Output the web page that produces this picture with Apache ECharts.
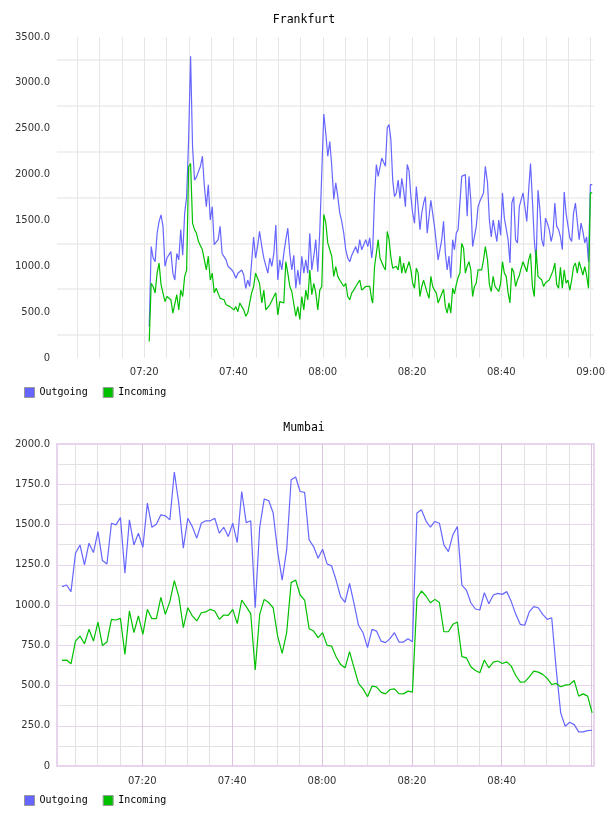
<!DOCTYPE html>
<html>
<head>
<meta charset="utf-8">
<script src="https://cdn.jsdelivr.net/npm/echarts@6/dist/echarts.min.js"></script>
<style>
  html, body { margin: 0; padding: 0; background: #fff; }
  #chart { width: 608px; height: 816px; }
</style>
</head>
<body>
<div id="chart"></div>
<script>
// times are minutes after 07:00
const seriesNames = ['Outgoing', 'Incoming'];
const fraLabelMinutes = [20, 40, 60, 80, 100, 120];
const mumLabelMinutes = [20, 40, 60, 80, 100];

// Frankfurt: samples read in four runs, [first minute, last minute, count]
const fraRuns = [[21.12, 45.83, 57], [45.90, 70.97, 57], [71.19, 96.42, 63], [96.49, 120.37, 58]];
const fraOutgoing = [
  340,1215,1090,1050,1360,1490,1560,1435,1000,1090,1070,1160,925,850,1140,1070,1400,1120,1580,1760,
  2380,3290,2300,1940,1975,1975,2090,2200,1870,1650,1890,1505,1650,1235,1235,1290,1435,1140,1120,1070,
  1000,980,960,925,870,925,940,960,905,760,850,780,760,1320,1090,1215,1380,
  1360,1215,1090,1090,925,1090,1000,1140,1450,850,1070,960,1140,1290,1415,1140,960,1120,760,960,
  800,1110,925,1070,925,1360,960,1110,1290,940,1380,1400,
  2660,2450,2200,2360,2090,1730,1910,1765,1580,1490,1360,1180,1090,1050,1120,1140,1215,1140,1290,1180,
  1175,1290,1215,1310,1090,
  1180,1760,2110,1980,2000,2180,2180,2090,2510,2545,2380,1940,1760,1800,1940,1740,1960,1830,1650,2110,
  2040,1760,1580,1470,1870,1650,1400,1580,1690,1760,1360,1380,1720,1580,1435,1255,1070,1070,1290,1490,
  1140,960,1110,870,1290,1180,1360,1400,1400,1980,2000,2000,1545,1980,1720,1215,1200,1435,1650,1710,
  1690,1800,2090,
  2090,1910,1505,1320,1505,1490,1270,1505,1340,1800,1525,1505,1290,1035,1690,1760,1290,1255,1650,1670,
  1800,1780,1490,1830,2120,1720,1290,1050,1830,1620,1290,1215,1525,1470,1400,1270,1360,1690,1435,1400,
  1320,1180,1810,1580,1580,1310,1270,1580,1690,1490,1290,1470,1380,1255,1320,1050,1890,1890
];
const fraIncoming = [
  180,815,780,710,925,1035,800,780,615,670,690,635,490,470,690,525,740,670,890,960,
  2085,2120,1470,1400,1360,1270,1260,1180,1070,960,1110,850,925,710,760,780,650,635,635,580,
  600,560,580,525,560,505,600,560,525,455,490,470,710,780,925,905,815,
  780,600,740,525,505,580,600,670,710,470,615,635,600,1050,925,780,725,710,455,560,
  420,670,525,740,635,960,690,815,710,525,740,780,
  1565,1475,1255,1180,1110,890,995,890,850,870,780,815,670,635,710,740,780,780,850,740,
  760,780,780,780,635,
  600,995,995,1290,1090,1090,995,960,1380,1290,1100,980,995,1000,960,1110,925,1035,925,925,
  1050,960,815,760,980,925,670,780,850,870,710,650,890,780,740,710,600,620,700,750,
  560,490,600,490,760,700,800,880,925,1250,1200,925,1000,1050,960,670,780,815,960,980,
  960,1070,1215,
  1215,1070,800,725,890,780,780,725,815,1050,925,890,710,600,980,940,780,850,900,980,
  1050,1030,940,1070,1140,780,670,1180,890,870,850,780,820,830,850,870,950,1035,800,760,
  990,760,960,815,850,740,850,995,1035,925,1050,980,905,995,900,760,1800,1800
];

// Mumbai: one sample per minute
const mumStart = 2.13;
const mumStep = 1;
const mumOutgoing = [
  1114,1124,1083,1321,1373,1249,1384,1326,1456,1276,1255,1508,1498,1543,1197,1529,1373,1446,1359,1633,
  1483,1502,1560,1554,1529,1826,1629,1353,1539,1487,1415,1508,1523,1523,1539,1446,1483,1425,1508,1388,
  1705,1512,1523,983,1483,1658,1649,1571,1332,1155,1342,1778,1795,1705,
  1700,1404,1363,1290,1346,1255,1243,1155,1052,1017,1135,1008,874,828,735,849,838,776,766,791,
  828,770,770,791,772,1571,1591,1523,1483,1519,1508,1373,1332,1436,1487,1124,1093,1014,975,969,
  1077,1008,1062,1072,1066,1083,1021,942,880,874,957,990,983,942,911,921,600,330,247,272,
  257,212,212,220,222
];
const mumIncoming = [
  656,658,635,776,807,759,849,776,894,749,770,911,907,917,693,963,828,932,818,973,
  915,915,1047,942,1021,1151,1052,859,983,932,901,952,957,973,963,911,938,936,973,884,
  1031,990,946,596,942,1035,1015,983,807,699,828,1139,1155,1062,
  1030,853,838,797,828,749,745,679,631,610,710,610,513,479,430,496,492,459,448,475,
  479,450,448,465,459,1041,1087,1056,1014,1035,1015,834,834,880,894,679,672,616,593,579,
  658,610,645,652,637,647,620,562,521,523,554,589,583,569,544,506,513,492,502,506,
  531,434,448,434,330
];

const blue = '#6666ff';
const green = '#00c000';
const labelFont = { fontFamily: 'DejaVu Sans', fontSize: 10, color: '#333' };
const monoFont = 'DejaVu Sans Mono';

function runTimes(runs) {
  const out = [];
  runs.forEach(([a, b, n]) => {
    for (let i = 0; i < n; i++) out.push(a + (b - a) * i / (n - 1));
  });
  return out;
}
const fraTimes = runTimes(fraRuns);
const mumTimes = mumOutgoing.map((v, i) => mumStart + i * mumStep);

function zip(times, vals) {
  return vals.map((v, i) => [times[i], v]);
}

function clock(list) {
  return function (v) {
    const m = Math.round(v);
    if (Math.abs(v - m) > 1e-6 || list.indexOf(m) < 0) return '';
    const h = 7 + Math.floor(m / 60);
    const mm = m % 60;
    return (h < 10 ? '0' : '') + h + ':' + (mm < 10 ? '0' : '') + mm;
  };
}

function yLabel(step) {
  return function (v) {
    if (v === 0) return '0';
    return v % step === 0 ? v.toFixed(1) : '';
  };
}

const chart = echarts.init(document.getElementById('chart'));

const titleStyle = { fontFamily: monoFont, fontSize: 11.5, fontWeight: 'normal', color: '#000' };
const legendBase = {
  data: seriesNames, left: 19, icon: 'rect', itemWidth: 10, itemHeight: 10, itemGap: 15,
  itemStyle: { borderColor: '#999', borderWidth: 1 },
  textStyle: { fontFamily: monoFont, fontSize: 10, color: '#000' }
};

chart.setOption({
  animation: false,
  title: [
    { text: 'Frankfurt', left: 'center', top: 9, textStyle: titleStyle },
    { text: 'Mumbai', left: 'center', top: 417, textStyle: titleStyle }
  ],
  legend: [
    Object.assign({ top: 382 }, legendBase),
    Object.assign({ top: 790 }, legendBase)
  ],
  grid: [
    { left: 57, right: 14, top: 37, height: 321 },
    { left: 57, right: 14, top: 444, height: 322, show: true, borderColor: '#e8d4ec', borderWidth: 2 }
  ],
  xAxis: [
    { type: 'value', gridIndex: 0, min: 0.459, max: 120.66, minInterval: 5, maxInterval: 5,
      axisLine: { show: false }, axisTick: { show: false },
      axisLabel: Object.assign({ formatter: clock(fraLabelMinutes), margin: 9, showMinLabel: true, showMaxLabel: true }, labelFont),
      splitLine: { show: true, showMinLine: false, showMaxLine: false, lineStyle: { color: '#e6e6e6', width: 1 } } },
    { type: 'value', gridIndex: 1, min: 1.013, max: 120.54, minInterval: 20, maxInterval: 20, z: 1,
      axisLine: { show: false }, axisTick: { show: false },
      axisLabel: Object.assign({ formatter: clock(mumLabelMinutes), margin: 10 }, labelFont),
      splitLine: { show: true, showMinLine: false, showMaxLine: false, lineStyle: { color: '#dcc4e0', width: 1 } } },
    { type: 'value', gridIndex: 1, min: 1.013, max: 120.54, minInterval: 5, maxInterval: 5, z: 0,
      axisLine: { show: false }, axisTick: { show: false }, axisLabel: { show: false },
      splitLine: { show: true, showMinLine: false, showMaxLine: false, lineStyle: { color: '#e4e0e4', width: 1 } } }
  ],
  yAxis: [
    { type: 'value', gridIndex: 0, min: 0, max: 3500, interval: 250,
      axisLine: { show: false }, axisTick: { show: false },
      axisLabel: Object.assign({ formatter: yLabel(500), margin: 7 }, labelFont),
      splitLine: { lineStyle: { color: ['rgba(0,0,0,0)', '#f0f0f0'], width: 2 } } },
    { type: 'value', gridIndex: 1, min: 0, max: 2000, interval: 125,
      axisLine: { show: false }, axisTick: { show: false },
      axisLabel: Object.assign({ formatter: yLabel(250), margin: 7 }, labelFont),
      splitLine: { lineStyle: { color: ['#e8d4ec', '#e4e0e4'], width: 1 } } }
  ],
  series: [
    { name: 'Outgoing', type: 'line', xAxisIndex: 0, yAxisIndex: 0, data: zip(fraTimes, fraOutgoing),
      showSymbol: false, color: blue, lineStyle: { width: 1.2 } },
    { name: 'Incoming', type: 'line', xAxisIndex: 0, yAxisIndex: 0, data: zip(fraTimes, fraIncoming),
      showSymbol: false, color: green, lineStyle: { width: 1.2 } },
    { name: 'Outgoing', type: 'line', xAxisIndex: 1, yAxisIndex: 1, data: zip(mumTimes, mumOutgoing),
      showSymbol: false, color: blue, lineStyle: { width: 1.2 } },
    { name: 'Incoming', type: 'line', xAxisIndex: 1, yAxisIndex: 1, data: zip(mumTimes, mumIncoming),
      showSymbol: false, color: green, lineStyle: { width: 1.2 } }
  ]
});
</script>
</body>
</html>
